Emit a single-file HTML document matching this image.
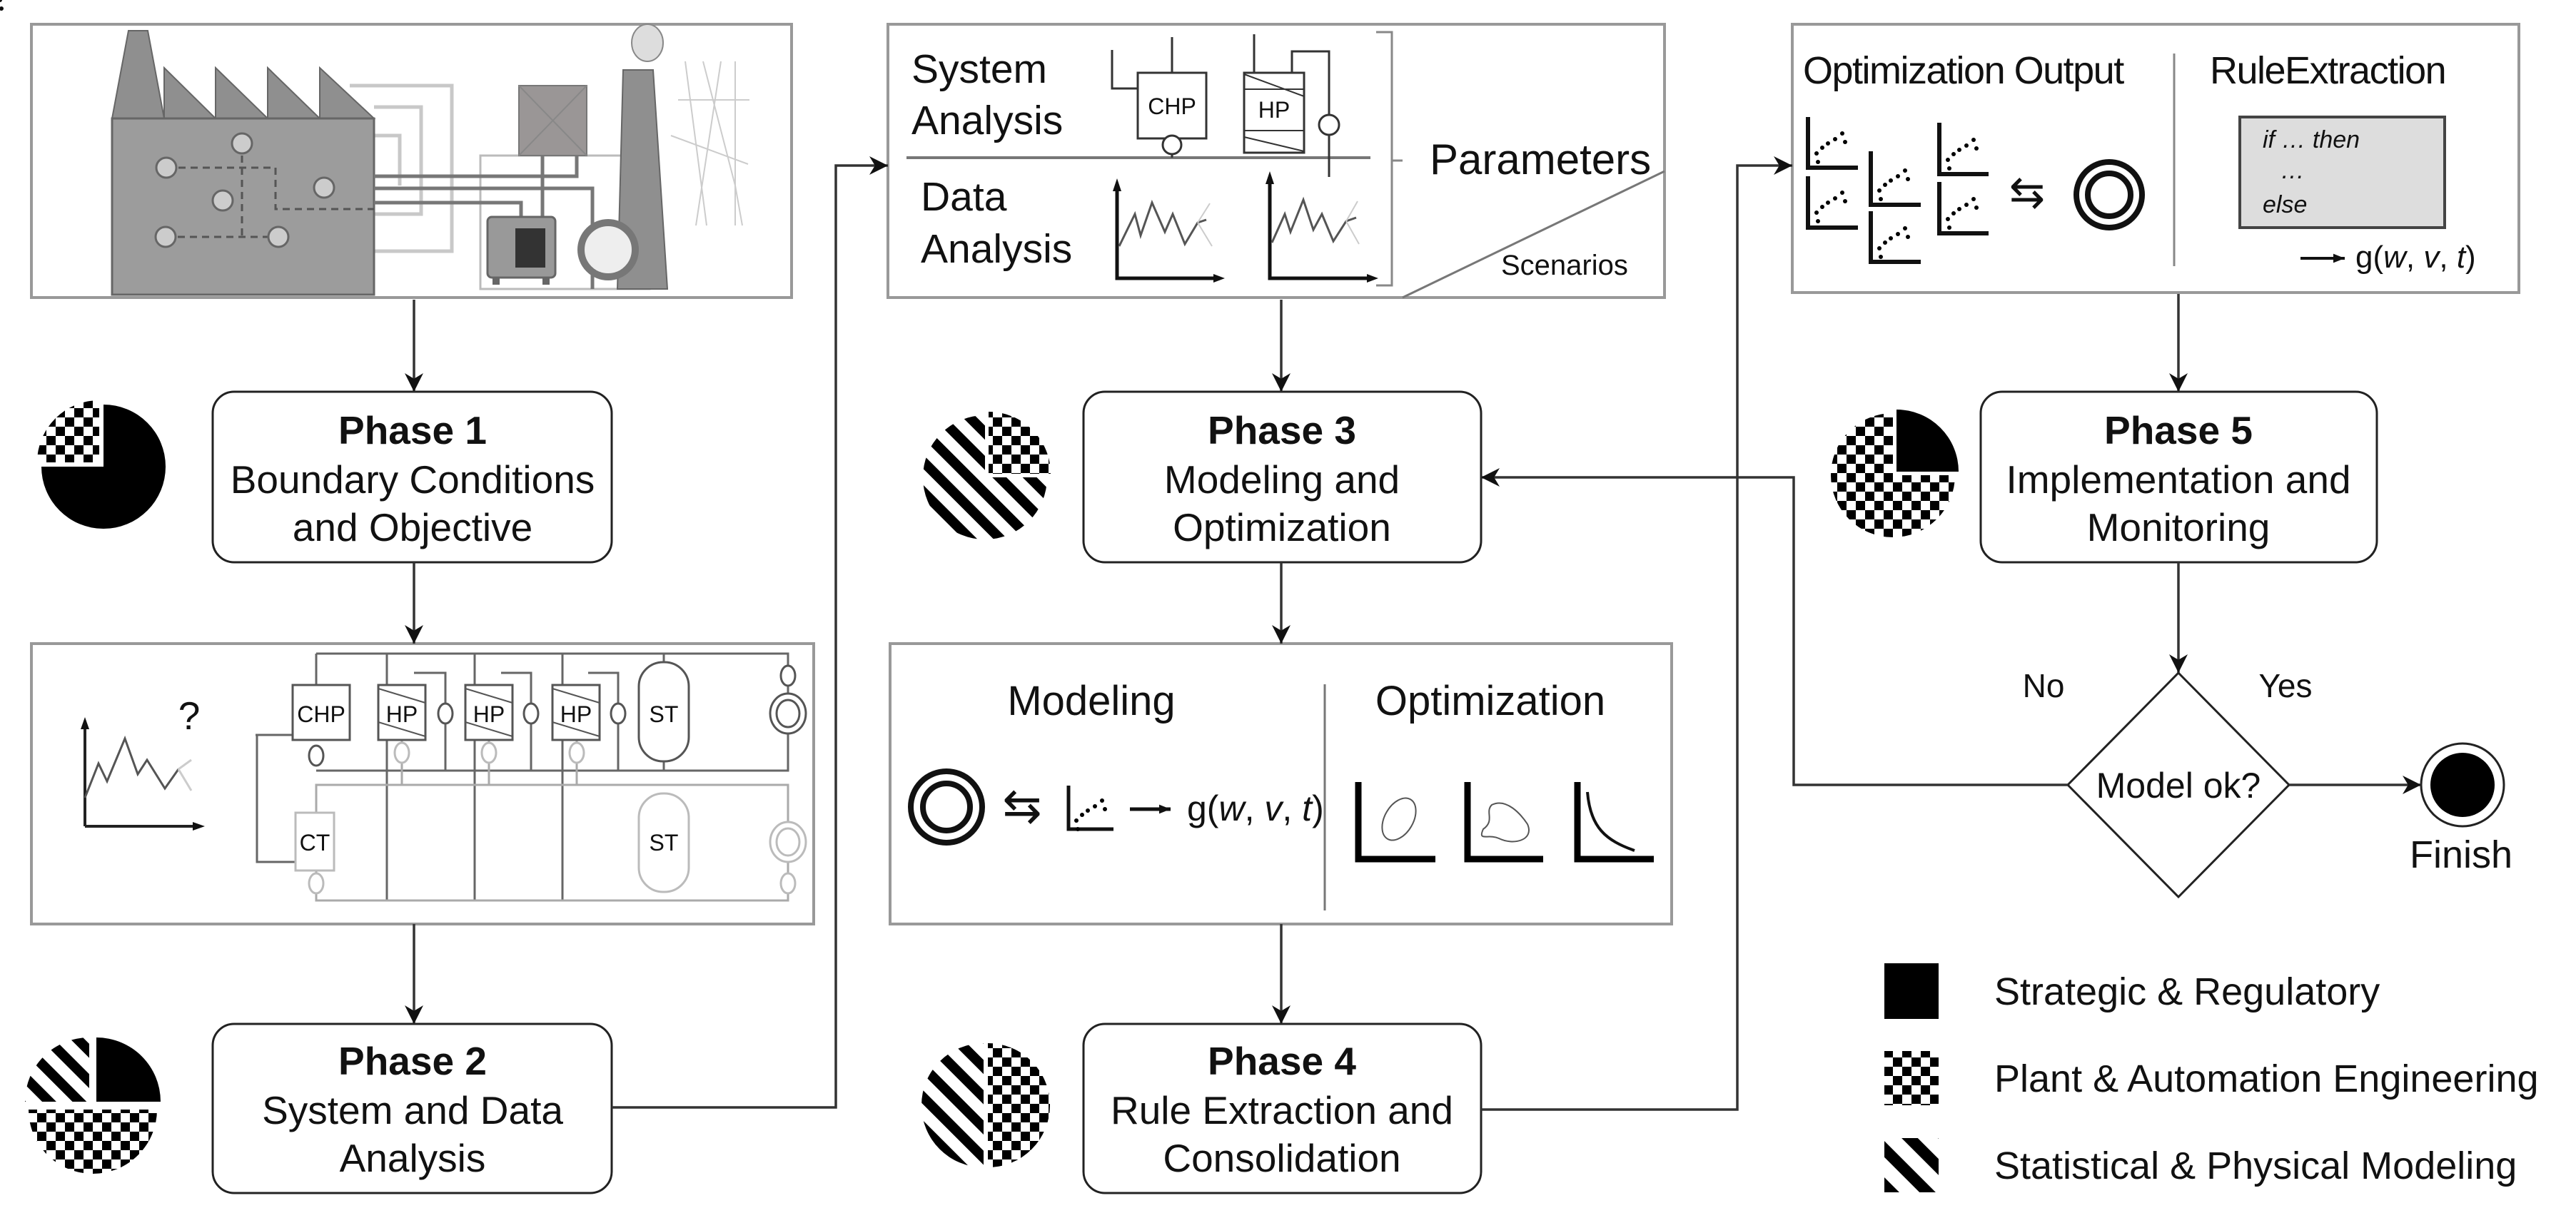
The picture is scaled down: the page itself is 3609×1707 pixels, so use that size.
<!DOCTYPE html>
<html><head><meta charset="utf-8"><style>
html,body{margin:0;padding:0;background:#fff}
svg{display:block}
text{font-family:"Liberation Sans",sans-serif;fill:#111}
</style></head><body>
<svg width="3609" height="1707" viewBox="0 0 3609 1707" xmlns="http://www.w3.org/2000/svg">
<defs>
<pattern id="chk" width="26" height="26" patternUnits="userSpaceOnUse">
<rect width="26" height="26" fill="#fff"/><rect width="13" height="13" fill="#000"/><rect x="13" y="13" width="13" height="13" fill="#000"/></pattern>
<pattern id="str" width="30" height="30" patternUnits="userSpaceOnUse" patternTransform="rotate(-45)">
<rect width="30" height="30" fill="#fff"/><rect width="14" height="30" fill="#000"/></pattern>
<pattern id="str2" width="36" height="36" patternUnits="userSpaceOnUse" patternTransform="rotate(-45)">
<rect width="36" height="36" fill="#fff"/><rect width="16" height="36" fill="#000"/></pattern>
<marker id="a" viewBox="0 0 10 10" refX="10" refY="5" markerWidth="26" markerHeight="26" markerUnits="userSpaceOnUse" orient="auto"><path d="M0,0 L10,5 L0,10 L3,5 Z" fill="#111"/></marker>
<marker id="sa" viewBox="0 0 10 10" refX="10" refY="5" markerWidth="16" markerHeight="16" markerUnits="userSpaceOnUse" orient="auto"><path d="M0,1 L10,5 L0,9 Z" fill="#111"/></marker>
</defs>

<!-- ===== Box 1: factory ===== -->
<rect x="44" y="34" width="1065" height="383" fill="#fff" stroke="#999" stroke-width="4"/>
<g fill="none" stroke="#c8c8c8" stroke-width="5">
<path d="M490,120 H633 V352 H490"/><path d="M524,150 H590 V300 H524"/><path d="M524,190 H560 V260"/>
</g>
<polygon points="157,166 180,43 207,43 230,166" fill="#8f8f8f" stroke="#666" stroke-width="2"/>
<polygon points="230,166 230,95 302,166" fill="#8f8f8f" stroke="#666" stroke-width="2"/>
<polygon points="302,166 302,95 375,166" fill="#8f8f8f" stroke="#666" stroke-width="2"/>
<polygon points="375,166 375,95 448,166" fill="#8f8f8f" stroke="#666" stroke-width="2"/>
<polygon points="448,166 448,95 524,166" fill="#8f8f8f" stroke="#666" stroke-width="2"/>
<rect x="157" y="166" width="367" height="247" fill="#9c9c9c" stroke="#666" stroke-width="3"/>
<g fill="none" stroke="#555" stroke-width="3" stroke-dasharray="10,7">
<path d="M233,235 H386 V293 H524"/><path d="M339,201 V332"/><path d="M232,332 H390"/>
</g>
<g fill="#ccc" stroke="#666" stroke-width="3">
<circle cx="233" cy="235" r="14"/><circle cx="339" cy="201" r="14"/><circle cx="312" cy="281" r="14"/><circle cx="454" cy="263" r="14"/><circle cx="232" cy="332" r="14"/><circle cx="390" cy="332" r="14"/>
</g>
<rect x="673" y="218" width="237" height="187" fill="#fff" stroke="#bbb" stroke-width="3"/>
<g fill="none" stroke="#777" stroke-width="5">
<path d="M524,247 H808 V218"/><path d="M524,264 H830 V405"/><path d="M524,284 H730 V304"/><path d="M760,218 V304"/>
</g>
<rect x="727" y="120" width="95" height="98" fill="#9a9696" stroke="#777" stroke-width="2"/>
<path d="M727,120 L822,218 M822,120 L727,218" stroke="#888" stroke-width="2"/>
<polygon points="865,405 873,98 915,98 935,405" fill="#8f8f8f" stroke="#666" stroke-width="2"/>
<ellipse cx="907" cy="60" rx="22" ry="26" fill="#ddd" stroke="#888" stroke-width="2"/>
<g fill="none" stroke="#ccc" stroke-width="2">
<path d="M960,86 L990,316 M1010,86 L975,316 M950,140 H1050 M985,86 L1030,260 L1040,316 M1030,86 V316 M940,190 L1048,230"/>
</g>
<rect x="683" y="304" width="95" height="85" rx="6" fill="#999" stroke="#666" stroke-width="3"/>
<rect x="722" y="320" width="42" height="55" fill="#333"/>
<rect x="690" y="389" width="10" height="10" fill="#666"/><rect x="760" y="389" width="10" height="10" fill="#666"/>
<circle cx="852" cy="350" r="38" fill="#eee" stroke="#777" stroke-width="10"/>

<!-- ===== Phase boxes ===== -->
<g fill="#fff" stroke="#222" stroke-width="3">
<rect x="298" y="549" width="559" height="239" rx="30"/>
<rect x="298" y="1435" width="559" height="237" rx="30"/>
<rect x="1518" y="549" width="557" height="239" rx="30"/>
<rect x="1518" y="1435" width="557" height="237" rx="30"/>
<rect x="2775" y="549" width="555" height="239" rx="30"/>
</g>
<g font-size="55" text-anchor="middle">
<text x="578" y="622" font-weight="bold">Phase 1</text>
<text x="578" y="691">Boundary Conditions</text>
<text x="578" y="758">and Objective</text>
<text x="578" y="1506" font-weight="bold">Phase 2</text>
<text x="578" y="1575">System and Data</text>
<text x="578" y="1642">Analysis</text>
<text x="1796" y="622" font-weight="bold">Phase 3</text>
<text x="1796" y="691">Modeling and</text>
<text x="1796" y="758">Optimization</text>
<text x="1796" y="1506" font-weight="bold">Phase 4</text>
<text x="1796" y="1575">Rule Extraction and</text>
<text x="1796" y="1642">Consolidation</text>
<text x="3052" y="622" font-weight="bold">Phase 5</text>
<text x="3052" y="691">Implementation and</text>
<text x="3052" y="758">Monitoring</text>
</g>

<!-- ===== Box 2: schematic ===== -->
<rect x="44" y="902" width="1096" height="393" fill="#fff" stroke="#999" stroke-width="4"/>
<g fill="none" stroke="#222" stroke-width="4">
<path d="M119,1158 V1010"/><path d="M119,1158 H280"/>
</g>
<path d="M113,1022 L119,1005 L125,1022 Z M270,1152 L287,1158 L270,1164 Z" fill="#111"/>
<path d="M119,1118 L138,1070 L150,1095 L175,1035 L193,1085 L206,1065 L231,1105 L250,1078" fill="none" stroke="#555" stroke-width="3"/>
<path d="M250,1078 L268,1065 M250,1078 L268,1108" stroke="#ccc" stroke-width="3"/>
<text x="265" y="1022" font-size="55" text-anchor="middle">?</text>
<g fill="none" stroke="#666" stroke-width="3">
<path d="M443,916 H1104 V1080 H443"/>
<path d="M443,916 V960"/><path d="M542,916 V1262"/><path d="M665,916 V1262"/><path d="M788,916 V1262"/><path d="M930,916 V1080"/>
<path d="M360,1030 V1208 H414"/><path d="M358,1030 H412"/>
<path d="M624,1080 V943 H580"/><path d="M744,1080 V943 H702"/><path d="M866,1080 V943 H824"/>
</g>
<g fill="none" stroke="#aaa" stroke-width="3">
<path d="M443,1100 H1104 V1262 H443 Z"/><path d="M443,1100 V1139"/>
<path d="M563,1037 V1100 M685,1037 V1100 M808,1037 V1100"/>
</g>
<g fill="#fff" stroke="#555" stroke-width="3">
<rect x="410" y="960" width="80" height="77"/>
<rect x="530" y="960" width="66" height="77"/><rect x="652" y="960" width="66" height="77"/><rect x="774" y="960" width="66" height="77"/>
<rect x="895" y="928" width="70" height="139" rx="34"/>
<ellipse cx="624" cy="1000" rx="10" ry="14"/><ellipse cx="744" cy="1000" rx="10" ry="14"/><ellipse cx="866" cy="1000" rx="10" ry="14"/>
<ellipse cx="443" cy="1059" rx="10" ry="14"/>
<ellipse cx="1104" cy="947" rx="10" ry="14"/>
<ellipse cx="1104" cy="1000" rx="25" ry="28"/><ellipse cx="1104" cy="1000" rx="16" ry="19"/>
</g>
<g fill="#fff" stroke="#bbb" stroke-width="3">
<rect x="414" y="1139" width="54" height="81"/>
<rect x="895" y="1112" width="70" height="138" rx="34"/>
<ellipse cx="563" cy="1055" rx="10" ry="14"/><ellipse cx="685" cy="1055" rx="10" ry="14"/><ellipse cx="808" cy="1055" rx="10" ry="14"/>
<ellipse cx="443" cy="1238" rx="10" ry="14"/><ellipse cx="1104" cy="1238" rx="10" ry="14"/>
<ellipse cx="1104" cy="1180" rx="25" ry="28"/><ellipse cx="1104" cy="1180" rx="16" ry="19"/>
</g>
<g stroke="#555" stroke-width="2">
<path d="M530,965 L596,985 M530,1012 L596,1032 M652,965 L718,985 M652,1012 L718,1032 M774,965 L840,985 M774,1012 L840,1032"/>
</g>
<g font-size="32" text-anchor="middle" fill="#333">
<text x="450" y="1012">CHP</text><text x="563" y="1012">HP</text><text x="685" y="1012">HP</text><text x="807" y="1012">HP</text><text x="930" y="1012">ST</text>
<text x="441" y="1192" fill="#aaa">CT</text><text x="930" y="1192" fill="#aaa">ST</text>
</g>

<!-- ===== Box: System/Data Analysis ===== -->
<rect x="1244" y="34" width="1088" height="383" fill="#fff" stroke="#999" stroke-width="4"/>
<line x1="1270" y1="221" x2="1920" y2="221" stroke="#777" stroke-width="4"/>
<g font-size="57">
<text x="1277" y="116">System</text><text x="1277" y="188">Analysis</text>
<text x="1290" y="295">Data</text><text x="1290" y="368">Analysis</text>
</g>
<g fill="none" stroke="#333" stroke-width="3">
<rect x="1594" y="102" width="96" height="92"/>
<path d="M1642,52 V102 M1642,194 V221 M1558,70 V124 H1594"/>
<circle cx="1642" cy="203" r="13" fill="#fff"/>
<rect x="1743" y="102" width="84" height="112"/>
<path d="M1757,48 V102 M1810,102 V72 H1862 V248"/>
<circle cx="1862" cy="175" r="14" fill="#fff"/>
<path d="M1743,125 H1827 M1743,183 H1827 M1743,104 L1827,135 M1743,192 L1827,212" stroke-width="2"/>
</g>
<g font-size="32" fill="#444" text-anchor="middle"><text x="1642" y="160">CHP</text><text x="1785" y="165">HP</text></g>
<g fill="none" stroke="#111" stroke-width="5">
<path d="M1565,260 V390 H1705"/><path d="M1779,250 V390 H1920"/>
</g>
<path d="M1559,268 L1565,250 L1571,268 Z M1700,384 L1716,390 L1700,396 Z M1773,258 L1779,240 L1785,258 Z M1915,384 L1931,390 L1915,396 Z" fill="#111"/>
<path d="M1568,345 L1590,300 L1598,330 L1614,284 L1632,325 L1643,300 L1660,342 L1678,312 L1690,308" fill="none" stroke="#555" stroke-width="3"/>
<path d="M1782,340 L1800,300 L1808,325 L1826,280 L1840,322 L1852,300 L1868,338 L1886,310 L1900,305" fill="none" stroke="#555" stroke-width="3"/>
<path d="M1678,312 L1695,285 M1678,312 L1698,345 M1886,310 L1902,282 M1886,310 L1904,342" stroke="#ccc" stroke-width="2"/>
<path d="M1928,45 H1950 V400 H1928 M1950,225 H1965" fill="none" stroke="#888" stroke-width="3"/>
<text x="2003" y="244" font-size="60">Parameters</text>
<line x1="1965" y1="417" x2="2332" y2="240" stroke="#777" stroke-width="3"/>
<text x="2103" y="385" font-size="40">Scenarios</text>

<!-- ===== Box: Optimization Output / Rule Extraction ===== -->
<rect x="2511" y="34" width="1018" height="376" fill="#fff" stroke="#999" stroke-width="4"/>
<line x1="3046" y1="75" x2="3046" y2="373" stroke="#888" stroke-width="3"/>
<text x="2526" y="117" font-size="54" letter-spacing="-1.5">Optimization Output</text>
<text x="3096" y="117" font-size="54" letter-spacing="-1.5">RuleExtraction</text>
<g fill="none" stroke="#111" stroke-width="6">
<path d="M2533,164 V235 H2603"/><path d="M2533,247 V319 H2603"/>
<path d="M2621,212 V287 H2691"/><path d="M2621,296 V367 H2691"/>
<path d="M2717,172 V244 H2786"/><path d="M2717,255 V327 H2786"/>
</g>
<g fill="#111">
<g id="dots"><circle cx="0" cy="0" r="3"/><circle cx="8" cy="-8" r="3"/><circle cx="16" cy="-14" r="3"/><circle cx="26" cy="-20" r="3"/><circle cx="36" cy="-28" r="3"/><circle cx="2" cy="12" r="3"/><circle cx="40" cy="-16" r="3"/></g>
</g>
<use href="#dots" x="2545" y="215"/><use href="#dots" x="2545" y="298"/><use href="#dots" x="2633" y="267"/><use href="#dots" x="2633" y="348"/><use href="#dots" x="2729" y="224"/><use href="#dots" x="2729" y="307"/>
<text x="2840" y="290" font-size="60" text-anchor="middle" font-family="DejaVu Sans">⇆</text>
<circle cx="2955" cy="273" r="46" fill="none" stroke="#111" stroke-width="8"/>
<circle cx="2955" cy="273" r="30" fill="none" stroke="#111" stroke-width="8"/>
<rect x="3138" y="164" width="287" height="155" fill="#ddd" stroke="#444" stroke-width="4"/>
<g font-size="34" font-style="italic" fill="#333">
<text x="3170" y="207">if … then</text><text x="3195" y="250">…</text><text x="3170" y="298">else</text>
</g>
<line x1="3223" y1="362" x2="3285" y2="362" stroke="#111" stroke-width="4" marker-end="url(#sa)"/>
<text x="3300" y="375" font-size="44" font-family="Liberation Serif,serif"><tspan>g(</tspan><tspan font-style="italic">w</tspan><tspan>, </tspan><tspan font-style="italic">v</tspan><tspan>, </tspan><tspan font-style="italic">t</tspan><tspan>)</tspan></text>

<!-- ===== Box: Modeling / Optimization ===== -->
<rect x="1247" y="902" width="1095" height="393" fill="#fff" stroke="#999" stroke-width="4"/>
<line x1="1856" y1="959" x2="1856" y2="1276" stroke="#777" stroke-width="3"/>
<text x="1529" y="1002" font-size="58" text-anchor="middle">Modeling</text>
<text x="2088" y="1002" font-size="58" text-anchor="middle">Optimization</text>
<circle cx="1326" cy="1131" r="50" fill="none" stroke="#111" stroke-width="8"/>
<circle cx="1326" cy="1131" r="33" fill="none" stroke="#111" stroke-width="8"/>
<text x="1432" y="1152" font-size="66" text-anchor="middle" font-family="DejaVu Sans">⇆</text>
<path d="M1497,1101 V1162 H1560" fill="none" stroke="#111" stroke-width="5"/>
<use href="#dots" x="1508" y="1150"/>
<line x1="1583" y1="1134" x2="1640" y2="1134" stroke="#111" stroke-width="5" marker-end="url(#sa)"/>
<text x="1663" y="1150" font-size="50" font-family="Liberation Serif,serif"><tspan>g(</tspan><tspan font-style="italic">w</tspan><tspan>, </tspan><tspan font-style="italic">v</tspan><tspan>, </tspan><tspan font-style="italic">t</tspan><tspan>)</tspan></text>
<g fill="none" stroke="#000" stroke-width="9">
<path d="M1903,1096 V1204 H2011"/><path d="M2056,1096 V1204 H2162"/><path d="M2210,1096 V1204 H2317"/>
</g>
<ellipse cx="1960" cy="1148" rx="20" ry="32" transform="rotate(30 1960 1148)" fill="none" stroke="#555" stroke-width="2"/>
<path d="M2090,1128 C2110,1118 2130,1140 2140,1155 C2150,1178 2120,1185 2100,1175 C2085,1168 2070,1180 2078,1162 C2095,1150 2080,1138 2090,1128 Z" fill="none" stroke="#555" stroke-width="2"/>
<path d="M2224,1110 C2228,1160 2250,1178 2290,1192" fill="none" stroke="#111" stroke-width="4"/>

<!-- ===== Decision, finish ===== -->
<polygon points="3052,943 3207,1100 3052,1257 2897,1100" fill="#fff" stroke="#222" stroke-width="3"/>
<text x="3052" y="1118" font-size="50" text-anchor="middle">Model ok?</text>
<text x="2863" y="977" font-size="46" text-anchor="middle">No</text>
<text x="3202" y="977" font-size="46" text-anchor="middle">Yes</text>
<circle cx="3450" cy="1100" r="58" fill="#fff" stroke="#222" stroke-width="3"/>
<circle cx="3450" cy="1100" r="45" fill="#000"/>
<text x="3448" y="1216" font-size="54" text-anchor="middle">Finish</text>

<!-- ===== Connectors ===== -->
<g fill="none" stroke="#333" stroke-width="3.5">
<path d="M580,420 V549" marker-end="url(#a)"/>
<path d="M580,788 V902" marker-end="url(#a)"/>
<path d="M580,1295 V1435" marker-end="url(#a)"/>
<path d="M857,1552 H1171 V232 H1244" marker-end="url(#a)"/>
<path d="M1795,420 V549" marker-end="url(#a)"/>
<path d="M1795,788 V902" marker-end="url(#a)"/>
<path d="M1795,1295 V1435" marker-end="url(#a)"/>
<path d="M2075,1555 H2434 V232 H2511" marker-end="url(#a)"/>
<path d="M3052,412 V549" marker-end="url(#a)"/>
<path d="M3052,788 V943" marker-end="url(#a)"/>
<path d="M2897,1100 H2513 V669 H2075" marker-end="url(#a)"/>
<path d="M3207,1100 H3392" marker-end="url(#a)"/>
</g>

<!-- ===== Pies ===== -->
<path d="M139,648 L52,648 A87 87 0 0 1 139,561 Z" fill="url(#chk)"/>
<path d="M145,654 L145,567 A87 87 0 1 1 58,654 Z" fill="#000"/>
<path d="M125,1544 L35,1544 A90 90 0 0 1 125,1454 Z" fill="url(#str)"/>
<path d="M135,1544 L135,1454 A90 90 0 0 1 225,1544 Z" fill="#000"/>
<path d="M40,1555 A90 90 0 0 0 220,1555 Z" fill="url(#chk)"/>
<path d="M1385,664 L1385,577 A87 87 0 0 1 1472,664 Z" fill="url(#chk)"/>
<path d="M1380,669 L1467,669 A87 87 0 1 1 1380,582 Z" fill="url(#str)"/>
<path d="M1378,1462 A87 87 0 0 0 1378,1636 Z" fill="url(#str)"/>
<path d="M1384,1462 A87 87 0 0 1 1384,1636 Z" fill="url(#chk)"/>
<path d="M2657,661 L2657,574 A87 87 0 0 1 2744,661 Z" fill="#000"/>
<path d="M2652,666 L2739,666 A87 87 0 1 1 2652,579 Z" fill="url(#chk)"/>

<!-- ===== Legend ===== -->
<rect x="2640" y="1350" width="76" height="78" fill="#000"/>
<rect x="2640" y="1473" width="76" height="76" fill="url(#chk)"/>
<rect x="2640" y="1595" width="76" height="76" fill="url(#str2)"/>
<g font-size="54">
<text x="2794" y="1408">Strategic &amp; Regulatory</text>
<text x="2794" y="1530">Plant &amp; Automation Engineering</text>
<text x="2794" y="1652">Statistical &amp; Physical Modeling</text>
</g>
</svg>
</body></html>
